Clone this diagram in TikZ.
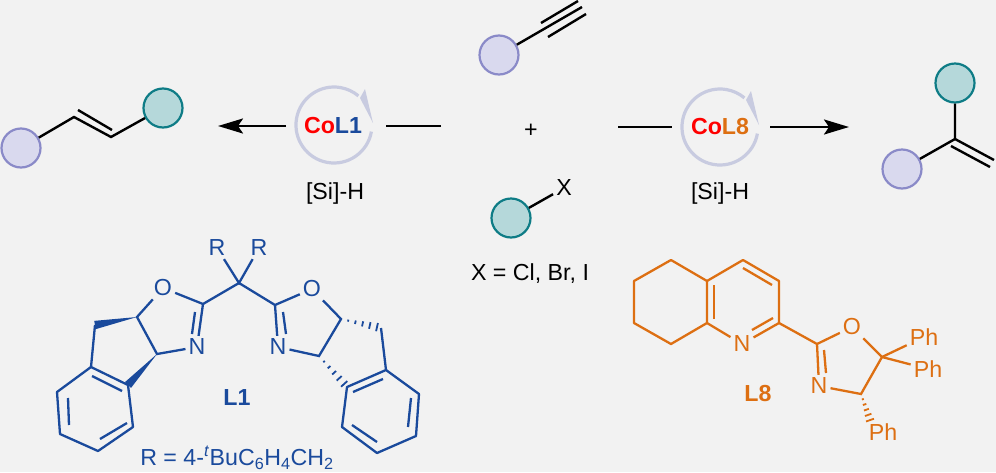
\documentclass[tikz,border=0pt]{standalone}
\usepackage{fontspec}
\setmainfont{Liberation Sans}
\usetikzlibrary{calc, arrows.meta}
\definecolor{bgcol}{HTML}{F2F2F2}
\definecolor{redcol}{HTML}{FF0000}
\definecolor{bluecol}{HTML}{1A4A9C}
\definecolor{orangecol}{HTML}{DD6F12}
\definecolor{loopcol}{HTML}{C8CBE0}
\definecolor{purplefill}{HTML}{D9D9EE}
\definecolor{purpleline}{HTML}{8A8AC8}
\definecolor{tealfill}{HTML}{B5D8DA}
\definecolor{tealline}{HTML}{0E7C86}
\tikzstyle{every node}=[font=\fontsize{23.2}{26}\selectfont, inner sep=2pt]
\tikzstyle{purpleball}=[circle, draw=purpleline, fill=purplefill, line width=2.2pt, minimum size=39pt, inner sep=0pt]
\tikzstyle{tealball}=[circle, draw=tealline, fill=tealfill, line width=2.2pt, minimum size=39pt, inner sep=0pt]
\tikzstyle{boldlabel}=[font=\fontsize{23.2}{26}\selectfont\bfseries]
\tikzstyle{ligone}=[bluecol, line width=2.3pt]
\tikzstyle{ligeight}=[orangecol, line width=2.3pt]
\tikzstyle{rxnarrow}=[line width=2.4pt, -{Stealth[length=25pt, width=15pt, inset=5pt]}]
\newcommand{\wedgebond}[2]{\fill ($(#2)!4.2pt!90:(#1)$) -- (#1) -- ($(#2)!4.2pt!-90:(#1)$) -- cycle;}
\newcommand{\hashbond}[2]{\foreach \t/\w in {0.18/1.0,0.36/1.8,0.54/2.6,0.72/3.4,0.9/4.2}
    \draw[line width=1.8pt] ($(#1)!\t!(#2)!\w pt!90:(#2)$) -- ($(#1)!\t!(#2)!\w pt!-90:(#2)$);}
\newcommand{\loopmark}[1]{
    \draw[loopcol, line width=3.2pt] ($(#1)+(37.4,6.6)$) arc[start angle=-10, end angle=-310, radius=38pt];
    \fill[loopcol] ($(#1)+(31,-36)$) -- ($(#1)+(39,-2)$) -- ($(#1)+(26,-27)$) -- cycle;}
\begin{document}
\begin{tikzpicture}[x=1pt, y=-1pt, line width=2.4pt]
\fill[bgcol] (0,0) rectangle (996,472);
\useasboundingbox (0,0) rectangle (996,472);
% Left product
    \node[purpleball] (ballA) at (21,148) {};
    \node[tealball] (ballB) at (163,108) {};
    \coordinate (alkA) at (74,117);
    \coordinate (alkB) at (111,137);
    \draw (ballA) -- (alkA) -- (alkB) -- (ballB);
    \draw (78,110) -- (112,130);
% Left arm
    \coordinate (loopL) at (334,125);
    \loopmark{loopL}
    \node[boldlabel] (coL) at (333,126) {\textcolor{redcol}{Co}\textcolor{bluecol}{L1}};
    \node (siL) at (335,193) {[Si]-H};
    \coordinate (armLa) at (286,126);
    \coordinate (armLb) at (218,126);
    \coordinate (armLc) at (441,126);
    \coordinate (armLd) at (386,126);
    \draw[rxnarrow] (armLa) -- (armLb);
    \draw (armLc) -- (armLd);
% Substrates
    \node[purpleball] (ballC) at (499,55) {};
    \coordinate (triA) at (582,7);
    \draw (ballC) -- (triA);
    \draw (541,23) -- (578,1);
    \draw (548,37) -- (586,14);
    \node (plus) at (531,131) {+};
    \node[tealball] (ballD) at (511,218) {};
    \node (halX) at (564,188) {X};
    \draw (ballD) -- (halX);
    \node (halNote) at (530,274) {X = Cl, Br, I};
% Right arm
    \coordinate (loopR) at (720,127);
    \loopmark{loopR}
    \node[boldlabel] (coR) at (720,127) {\textcolor{redcol}{Co}\textcolor{orangecol}{L8}};
    \node (siR) at (720,193) {[Si]-H};
    \coordinate (armRa) at (618,127);
    \coordinate (armRb) at (672,127);
    \coordinate (armRc) at (770,127);
    \coordinate (armRd) at (849,127);
    \draw (armRa) -- (armRb);
    \draw[rxnarrow] (armRc) -- (armRd);
% Right product
    \node[purpleball] (ballE) at (902,169) {};
    \node[tealball] (ballF) at (955,83) {};
    \coordinate (vinA) at (955,139);
    \coordinate (vinB) at (994,160);
    \draw (ballE) -- (vinA) -- (ballF);
    \draw (vinA) -- (vinB);
    \draw (951,146) -- (990,167);
% Ligand L1, left half
\begin{scope}[ligone, text=bluecol]
    \node (rA) at (217,248) {R};
    \node (rB) at (259,248) {R};
    \coordinate (cMid) at (239,283);
    \draw (rA) -- (cMid) -- (rB);
    \node (oA) at (163,288) {O};
    \node (nA) at (197,347) {N};
    \coordinate (cA) at (203,304);
    \coordinate (cB) at (137,317);
    \coordinate (cC) at (157,354);
    \coordinate (cD) at (95,325);
    \coordinate (cE) at (91,367);
    \coordinate (cF) at (128,385);
    \coordinate (cG) at (133,427);
    \coordinate (cH) at (98,451);
    \coordinate (cI) at (60,434);
    \coordinate (cJ) at (57,392);
    \draw (cMid) -- (cA) -- (oA) -- (cB) -- (cC) -- (nA);
    \draw (cA) -- (nA);
    \draw (195,312) -- (192,334);
    \wedgebond{cB}{cD}
    \wedgebond{cC}{cF}
    \draw (cD) -- (cE);
    \draw[line join=round] (cE) -- (cF) -- (cG) -- (cH) -- (cI) -- (cJ) -- cycle;
    \draw (92,376) -- (122,391);
    \draw (68,398) -- (69,425);
    \draw (100,439) -- (127,423);
% Ligand L1, right half
    \node (oB) at (312,289) {O};
    \node (nB) at (278,347) {N};
    \coordinate (dA) at (275,305);
    \coordinate (dB) at (341,319);
    \coordinate (dC) at (319,356);
    \coordinate (dD) at (381,328);
    \coordinate (dE) at (386,370);
    \coordinate (dF) at (347,387);
    \coordinate (dG) at (342,427);
    \coordinate (dH) at (377,453);
    \coordinate (dI) at (416,436);
    \coordinate (dJ) at (419,394);
    \draw (cMid) -- (dA) -- (oB) -- (dB) -- (dC) -- (nB);
    \draw (dA) -- (nB);
    \draw (283,312) -- (286,334);
    \hashbond{dB}{dD}
    \hashbond{dC}{dF}
    \draw (dD) -- (dE);
    \draw[line join=round] (dE) -- (dF) -- (dG) -- (dH) -- (dI) -- (dJ) -- cycle;
    \draw (353,392) -- (383,379);
    \draw (352,425) -- (377,442);
    \draw (408,427) -- (411,398);
    \node[boldlabel] (nameA) at (237,398) {L1};
    \node (noteR) at (237,458) {R = 4-\textsuperscript{\textit{t}}BuC\textsubscript{6}H\textsubscript{4}CH\textsubscript{2}};
\end{scope}
% Ligand L8
\begin{scope}[ligeight, text=orangecol]
    \coordinate (eA) at (671,260);
    \coordinate (eB) at (634,281);
    \coordinate (eC) at (634,323);
    \coordinate (eD) at (671,344);
    \coordinate (eE) at (707,323);
    \coordinate (eF) at (707,281);
    \coordinate (eG) at (743,260);
    \coordinate (eH) at (779,281);
    \coordinate (eI) at (779,323);
    \node (nC) at (742,344) {N};
    \coordinate (eJ) at (817,344);
    \node (oC) at (852,327) {O};
    \coordinate (eK) at (882,357);
    \coordinate (eL) at (861,394);
    \coordinate (eM) at (871,423);
    \node (nD) at (819,386) {N};
    \node (phA) at (924,337) {Ph};
    \node (phB) at (928,369) {Ph};
    \node (phC) at (883,432) {Ph};
    \draw[line join=round] (eF) -- (eA) -- (eB) -- (eC) -- (eD) -- (eE) -- cycle;
    \draw[line join=round] (eF) -- (eG) -- (eH) -- (eI) -- (nC) -- (eE);
    \draw (714,285) -- (714,319);
    \draw (743,268) -- (772,285);
    \draw (752,330) -- (773,318);
    \draw (eI) -- (eJ) -- (oC) -- (eK) -- (eL) -- (nD) -- (eJ);
    \draw (824,350) -- (826,373);
    \draw (eK) -- (phA);
    \draw (eK) -- (phB);
    \hashbond{eL}{eM}
    \node[boldlabel] (nameB) at (758,394) {L8};
\end{scope}
\end{tikzpicture}
\end{document}
